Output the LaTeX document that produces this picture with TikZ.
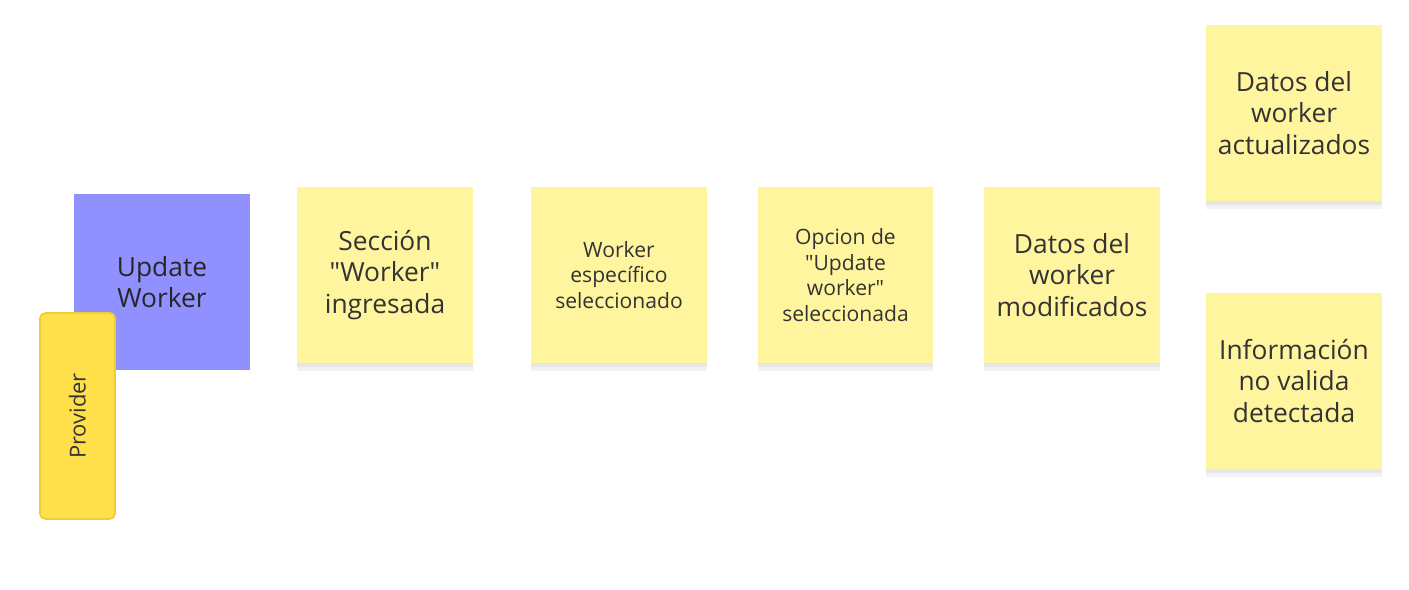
\documentclass[tikz,border=0pt]{standalone}
\usepackage{fontspec}
\setmainfont{Open Sans}
\usepackage{tikz}
\usetikzlibrary{shadows}
\definecolor{mSticky}{HTML}{FFF59E}
\definecolor{mPurple}{HTML}{9090FF}
\definecolor{mYellow}{HTML}{FFE04A}
\definecolor{mYellowEdge}{HTML}{F5CC30}
\definecolor{mText}{HTML}{333333}

\begin{document}
\begin{tikzpicture}[x=0.02cm,y=-0.02cm,text=mText,
    note/.style={fill=mSticky,minimum width=3.52cm,minimum height=3.52cm,
      align=center,inner sep=2pt,font=\fontsize{15}{18}\selectfont,
      general shadow={fill=black,opacity=0.05,shadow yshift=-4.5pt},
      drop shadow={shadow xshift=0pt,shadow yshift=-2pt,opacity=0.1}},
    small/.style={font=\fontsize{12}{14.5}\selectfont}]
  \useasboundingbox (0,0) rectangle (1409,589);

  % Event
  \node[fill=mPurple,minimum width=3.52cm,minimum height=3.54cm,align=center,
        font=\fontsize{15}{18}\selectfont,text=black!85] (update) at (162,282)
        {Update\\Worker};

  % Actor tag overlapping the event
  \node[fill=mYellow,draw=mYellowEdge,line width=1pt,rounded corners=3pt,
        minimum width=4.12cm,minimum height=1.5cm,rotate=90,
        font=\fontsize{12.5}{14}\selectfont] (provider) at (77.5,416) {Provider};

  % Domain events, left to right
  \node[note] (seccion) at (385,275) {Sección\\\textquotedbl Worker\textquotedbl\\ingresada};
  \node[note,small] (worker) at (619,275) {Worker\\específico\\seleccionado};
  \node[note,small] (opcion) at (845.5,275)
        {Opcion de\\\textquotedbl Update\\worker\textquotedbl\\seleccionada};
  \node[note] (modificados) at (1072,275) {Datos del\\worker\\modificados};

  % Outcomes
  \node[note] (actualizados) at (1294,113) {Datos del\\worker\\actualizados};
  \node[note] (novalida) at (1294,381) {Información\\no valida\\detectada};
\end{tikzpicture}
\end{document}
